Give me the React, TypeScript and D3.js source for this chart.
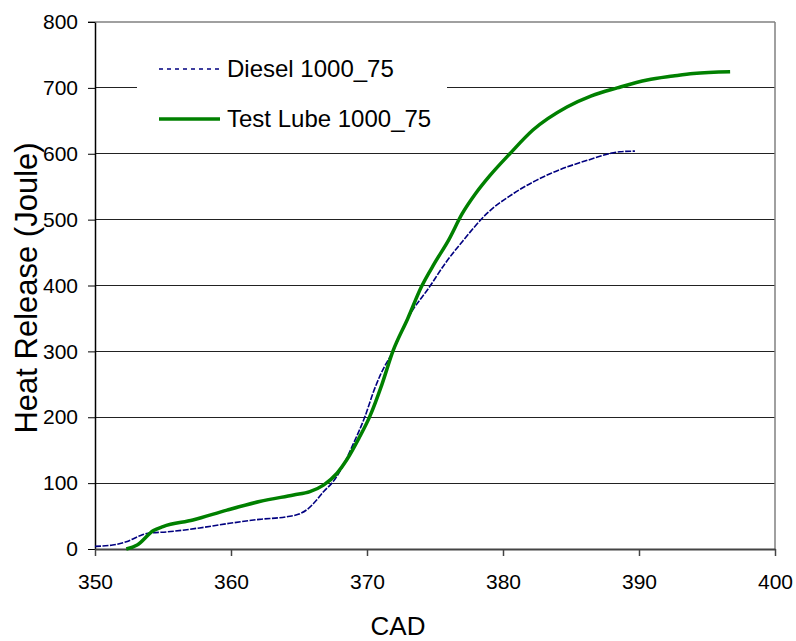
import React, { useEffect, useRef } from "react";
import * as d3 from "d3";

// DATA
const dieselCad = [350, 351.3, 352.3, 353.3, 353.9, 355.3, 357.7, 359.9, 362.1, 364.1, 365.0, 365.6, 366.2, 366.8, 367.5, 368.2, 369.0, 369.85, 370.5, 371.0, 371.9, 373.0, 374.6, 375.8, 377.1, 378.8, 380.8, 383.5, 386.2, 388.6, 389.7];
const dieselHeat = [4, 6, 11, 20, 24, 26, 32, 39, 45, 49, 53, 60, 72, 87, 102, 125, 160, 201, 240, 265, 300, 350, 398, 435, 469, 509, 540, 570, 590, 603, 604];

const lubeCad = [352.3, 353.1, 354.3, 355.0, 357.2, 359.7, 362.1, 364.6, 365.8, 366.8, 367.8, 368.5, 369.4, 370.2, 371.1, 371.9, 373.0, 374.0, 375.0, 376.0, 377.0, 378.0, 379.0, 380.5, 382.2, 384.7, 386.5, 388.4, 390.6, 392.5, 394.0, 396.7];
const lubeHeat = [0, 6, 28, 34, 44, 59, 72, 82, 87, 97, 115, 135, 168, 201, 250, 300, 350, 398, 435, 469, 509, 540, 566, 600, 636, 671, 688, 700, 712, 718, 722, 724.5];

const xTicks = [350, 360, 370, 380, 390, 400];
const yTicks = [0, 100, 200, 300, 400, 500, 600, 700, 800];

const seriesNames = ["Diesel 1000_75", "Test Lube 1000_75"];

export default function App() {
  const ref = useRef<SVGSVGElement>(null);

  useEffect(() => {
    const svg = d3.select(ref.current);
    svg.selectAll("*").remove();

    const left = 95, right = 775, top = 22, bottom = 549;
    const font = "Arial, 'Liberation Sans', sans-serif";

    const x = d3.scaleLinear().domain([350, 400]).range([left, right]);
    const y = d3.scaleLinear().domain([0, 800]).range([bottom, top]);

    // GRID
    svg
      .append("g")
      .selectAll("line")
      .data(yTicks.filter((t) => t > 0 && t < 800))
      .join("line")
      .attr("x1", left)
      .attr("x2", right)
      .attr("y1", (d) => y(d))
      .attr("y2", (d) => y(d))
      .attr("stroke", "#222")
      .attr("stroke-width", 1)
      .attr("shape-rendering", "crispEdges");

    // TOP AND RIGHT BORDER
    svg
      .append("line")
      .attr("x1", left - 7)
      .attr("x2", right)
      .attr("y1", y(800))
      .attr("y2", y(800))
      .attr("stroke", "#808080")
      .attr("stroke-width", 1.5);
    svg
      .append("line")
      .attr("x1", right)
      .attr("x2", right)
      .attr("y1", top)
      .attr("y2", bottom)
      .attr("stroke", "#808080")
      .attr("stroke-width", 1.5);

    // LEGEND BOX (white, covers grid)
    svg
      .append("rect")
      .attr("x", 137)
      .attr("y", 45)
      .attr("width", 310)
      .attr("height", 100)
      .attr("fill", "#fff");

    // Y AXIS
    const yAxis = svg
      .append("g")
      .attr("transform", `translate(${left},0)`)
      .call(d3.axisLeft(y).tickValues(yTicks).tickSize(7).tickPadding(10).tickSizeOuter(0));
    yAxis.select(".domain").attr("stroke", "#000").attr("stroke-width", 1.5);
    yAxis.selectAll(".tick line").attr("stroke", "#000");
    yAxis
      .selectAll(".tick text")
      .attr("font-family", font)
      .attr("font-size", 21)
      .attr("fill", "#000");

    // X AXIS
    const xAxis = svg
      .append("g")
      .attr("transform", `translate(0,${bottom})`)
      .call(d3.axisBottom(x).tickValues(xTicks).tickSize(7).tickPadding(18).tickSizeOuter(0));
    xAxis.select(".domain").attr("stroke", "#444").attr("stroke-width", 2);
    xAxis.selectAll(".tick line").attr("stroke", "#444").attr("stroke-width", 1.5);
    xAxis
      .selectAll(".tick text")
      .attr("font-family", font)
      .attr("font-size", 21)
      .attr("fill", "#000");

    // LINES
    const line = d3
      .line<[number, number]>()
      .x((d) => x(d[0]))
      .y((d) => y(d[1]))
      .curve(d3.curveMonotoneX);

    const diesel: [number, number][] = dieselCad.map((c, i) => [c, dieselHeat[i]]);
    const lube: [number, number][] = lubeCad.map((c, i) => [c, lubeHeat[i]]);

    svg
      .append("path")
      .datum(diesel)
      .attr("fill", "none")
      .attr("stroke", "#000080")
      .attr("stroke-width", 1.6)
      .attr("stroke-dasharray", "6,1.5")
      .attr("d", line);

    svg
      .append("path")
      .datum(lube)
      .attr("fill", "none")
      .attr("stroke", "#008000")
      .attr("stroke-width", 3.5)
      .attr("stroke-linejoin", "round")
      .attr("d", line);

    // LEGEND
    const legend = svg.append("g");
    legend
      .append("line")
      .attr("x1", 159)
      .attr("x2", 220)
      .attr("y1", 69)
      .attr("y2", 69)
      .attr("stroke", "#000080")
      .attr("stroke-width", 1.6)
      .attr("stroke-dasharray", "4,4");
    legend
      .append("line")
      .attr("x1", 159)
      .attr("x2", 220)
      .attr("y1", 119)
      .attr("y2", 119)
      .attr("stroke", "#008000")
      .attr("stroke-width", 3.5);
    legend
      .selectAll("text")
      .data(seriesNames)
      .join("text")
      .attr("x", 227)
      .attr("y", (d, i) => 77 + i * 50)
      .attr("font-family", font)
      .attr("font-size", 24)
      .attr("fill", "#000")
      .text((d) => d);

    // AXIS TITLES
    svg
      .append("text")
      .attr("x", 398)
      .attr("y", 635)
      .attr("text-anchor", "middle")
      .attr("font-family", font)
      .attr("font-size", 26)
      .attr("fill", "#000")
      .text("CAD");

    svg
      .append("text")
      .attr("transform", `translate(37,288) rotate(-90)`)
      .attr("text-anchor", "middle")
      .attr("font-family", font)
      .attr("font-size", 31)
      .attr("fill", "#000")
      .text("Heat Release (Joule)");
  }, []);

  return (
    <svg
      ref={ref}
      width={796}
      height={641}
      style={{ position: "absolute", left: 0, top: 0, background: "#fff" }}
    />
  );
}
